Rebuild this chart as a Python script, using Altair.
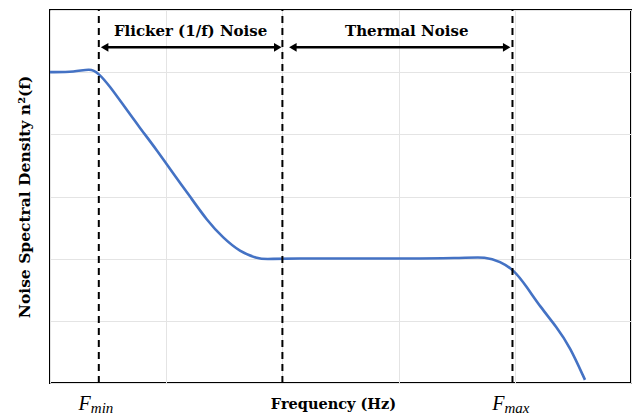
import altair as alt
import pandas as pd

# Noise spectral density curve (frequency in grid units, density in grid units)
freq = [0.0, 0.215, 0.344, 0.416, 0.516, 0.631, 0.775, 0.918, 1.061, 1.205, 1.349,
        1.491, 1.635, 1.779, 1.865, 2.008, 3.0, 3.528, 3.758, 3.873, 3.987, 4.102,
        4.217, 4.361, 4.475, 4.604]
density = [5.0, 5.0, 5.06, 4.99, 4.77, 4.47, 4.10, 3.75, 3.37, 3.00, 2.62,
           2.33, 2.11, 2.006, 1.99, 2.006, 2.0, 2.006, 2.035, 1.95, 1.83, 1.55,
           1.23, 0.90, 0.58, 0.05]

# Region boundaries (dashed verticals)
bound_x = [0.42, 2.0, 3.98]

# Region arrows
arrow_names = ["Flicker (1/f) Noise", "Thermal Noise"]
arrow_start = [0.47, 2.09]
arrow_end = [1.96, 3.93]
arrow_y = [5.40, 5.40]
label_x = [1.21, 3.07]
label_y = [5.66, 5.66]

# Frequency markers under the axis
marker_x = [0.42, 3.98]
marker_sub = ["min", "max"]

W, H = 581, 373
SERIF = "DejaVu Serif"
TEXT_SERIF = "Liberation Serif"

curve_df = pd.DataFrame({"f": freq, "n": density})
bound_df = pd.DataFrame({"f": bound_x, "y0": [0] * 3, "y1": [6] * 3})
arrow_df = pd.DataFrame({"name": arrow_names, "x0": arrow_start, "x1": arrow_end,
                         "y": arrow_y, "lx": label_x, "ly": label_y})
marker_df = pd.DataFrame({"f": marker_x, "sub": marker_sub, "F": ["F", "F"],
                          "y": [-0.43, -0.43], "ys": [-0.49, -0.49]})

xs = alt.Scale(domain=[0, 5], nice=False)
ys = alt.Scale(domain=[0, 6], nice=False)

x_axis = alt.Axis(values=[0, 1, 2, 3, 4, 5], labels=False, ticks=False, domain=False,
                  grid=True, gridColor="#e4e4e4", gridWidth=1,
                  title="Frequency (Hz)", titleFont=SERIF, titleFontSize=14.5,
                  titleFontWeight="bold", titleColor="black", titlePadding=14,
                  titleX=283)
y_axis = alt.Axis(values=[0, 1, 2, 3, 4, 5, 6], labels=False, ticks=False, domain=False,
                  grid=True, gridColor="#e4e4e4", gridWidth=1,
                  title="Noise Spectral Density  n²(f)", titleFont=SERIF,
                  titleFontSize=15.5, titleFontWeight="bold", titleColor="black",
                  titlePadding=18)

curve = alt.Chart(curve_df).mark_line(color="#4472C4", strokeWidth=2.6,
                                      interpolate="basis", clip=True).encode(
    x=alt.X("f:Q", scale=xs, axis=x_axis),
    y=alt.Y("n:Q", scale=ys, axis=y_axis),
)

bounds = alt.Chart(bound_df).mark_rule(color="black", strokeWidth=2,
                                       strokeDash=[7, 5]).encode(
    x=alt.X("f:Q", scale=xs), y=alt.Y("y0:Q", scale=ys), y2="y1:Q"
)

arrow_lines = alt.Chart(arrow_df).mark_rule(color="black", strokeWidth=2.5).encode(
    x=alt.X("x0:Q", scale=xs), x2="x1:Q", y=alt.Y("y:Q", scale=ys)
)
heads_left = alt.Chart(arrow_df).mark_point(shape="triangle-left", filled=True,
                                            color="black", size=75, opacity=1).encode(
    x=alt.X("x0:Q", scale=xs), y=alt.Y("y:Q", scale=ys)
)
heads_right = alt.Chart(arrow_df).mark_point(shape="triangle-right", filled=True,
                                             color="black", size=75, opacity=1).encode(
    x=alt.X("x1:Q", scale=xs), y=alt.Y("y:Q", scale=ys)
)
arrow_labels = alt.Chart(arrow_df).mark_text(font=SERIF, fontSize=15, fontWeight="bold",
                                             color="black", baseline="middle").encode(
    x=alt.X("lx:Q", scale=xs), y=alt.Y("ly:Q", scale=ys), text="name:N"
)

marker_F = alt.Chart(marker_df).mark_text(font=TEXT_SERIF, fontSize=20, fontStyle="italic",
                                          color="black", align="right", dx=-8,
                                          baseline="alphabetic", clip=False).encode(
    x=alt.X("f:Q", scale=xs), y=alt.Y("y:Q", scale=ys), text="F:N"
)
marker_s = alt.Chart(marker_df).mark_text(font=TEXT_SERIF, fontSize=15, fontStyle="italic",
                                          color="black", align="left", dx=-8,
                                          baseline="alphabetic", clip=False).encode(
    x=alt.X("f:Q", scale=xs), y=alt.Y("ys:Q", scale=ys), text="sub:N"
)

chart = alt.layer(
    curve, bounds, arrow_lines, heads_left, heads_right, arrow_labels, marker_F, marker_s
).properties(
    width=W, height=H,
    autosize=alt.AutoSizeParams(type="none"),
    padding={"left": 50, "top": 10, "right": 8, "bottom": 34},
    background="white",
).configure_view(stroke="black", strokeWidth=2)

chart.save("out.html", embed_options={"renderer": "svg", "actions": False})
